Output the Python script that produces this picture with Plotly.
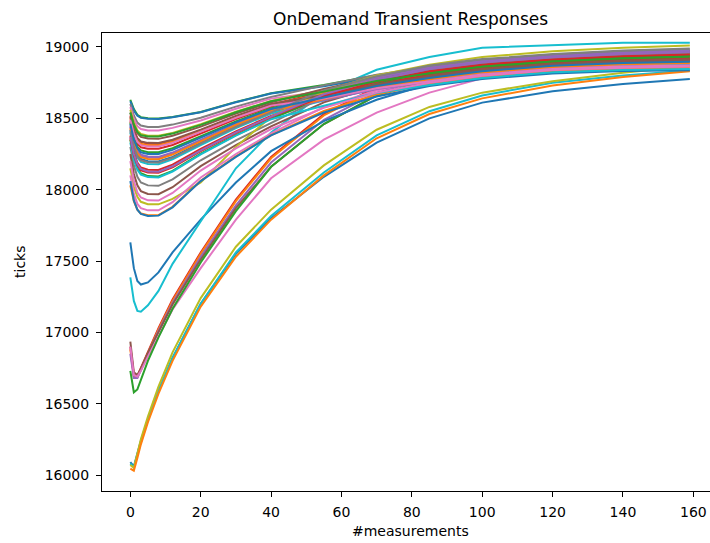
import plotly.graph_objects as go

xs = [0, 1, 2, 3, 5, 8, 12, 20, 30, 40, 55, 70, 85, 100, 120, 140, 159]

tab10 = {"blue": "#1f77b4", "orange": "#ff7f0e", "green": "#2ca02c", "red": "#d62728",
         "purple": "#9467bd", "brown": "#8c564b", "pink": "#e377c2", "gray": "#7f7f7f",
         "olive": "#bcbd22", "cyan": "#17becf"}

# group A: upper cluster
group_a_colors = ["green", "blue", "gray", "pink", "olive", "brown", "red", "orange", "red", "green",
                  "purple", "blue", "cyan", "red", "green", "gray", "brown", "olive", "pink", "orange",
                  "blue", "purple", "orange", "brown", "pink", "gray", "cyan", "red", "purple", "green",
                  "blue", "pink"]
group_a_values = [
    [18630, 18565, 18525, 18508, 18500, 18498, 18510, 18545, 18615, 18675, 18734, 18802, 18854, 18900, 18935, 18959, 18973],
    [18620, 18555, 18518, 18503, 18497, 18495, 18507, 18543, 18613, 18674, 18724, 18789, 18838, 18884, 18920, 18943, 18956],
    [18600, 18520, 18470, 18450, 18440, 18440, 18456, 18504, 18582, 18650, 18731, 18805, 18862, 18907, 18943, 18967, 18982],
    [18580, 18495, 18445, 18425, 18415, 18415, 18433, 18485, 18567, 18638, 18689, 18757, 18806, 18853, 18890, 18911, 18922],
    [18560, 18470, 18415, 18390, 18378, 18378, 18398, 18458, 18546, 18622, 18699, 18774, 18830, 18876, 18913, 18935, 18948],
    [18540, 18450, 18395, 18370, 18358, 18356, 18378, 18442, 18533, 18612, 18706, 18786, 18846, 18892, 18928, 18951, 18965],
    [18520, 18420, 18360, 18335, 18322, 18320, 18344, 18416, 18513, 18597, 18684, 18764, 18822, 18869, 18905, 18927, 18939],
    [18500, 18400, 18345, 18322, 18312, 18312, 18337, 18411, 18509, 18594, 18678, 18757, 18814, 18861, 18898, 18919, 18931],
    [18480, 18380, 18320, 18297, 18287, 18287, 18313, 18392, 18494, 18582, 18663, 18742, 18798, 18845, 18883, 18903, 18914],
    [18470, 18360, 18300, 18275, 18262, 18262, 18290, 18373, 18479, 18571, 18653, 18734, 18790, 18838, 18875, 18895, 18905],
    [18450, 18340, 18275, 18245, 18232, 18230, 18260, 18350, 18461, 18557, 18691, 18784, 18854, 18900, 18935, 18959, 18973],
    [18420, 18310, 18245, 18215, 18200, 18198, 18230, 18327, 18442, 18543, 18638, 18723, 18782, 18830, 18868, 18887, 18897],
    [18400, 18290, 18225, 18195, 18180, 18178, 18212, 18313, 18431, 18534, 18624, 18709, 18766, 18814, 18853, 18871, 18880],
    [18380, 18260, 18190, 18155, 18140, 18138, 18175, 18285, 18408, 18517, 18644, 18739, 18806, 18853, 18890, 18911, 18922],
    [18350, 18225, 18150, 18115, 18095, 18092, 18132, 18252, 18382, 18497, 18648, 18749, 18822, 18869, 18905, 18927, 18939],
    [18300, 18170, 18090, 18050, 18030, 18027, 18072, 18206, 18346, 18469, 18648, 18758, 18838, 18884, 18920, 18943, 18956],
    [18250, 18110, 18030, 17990, 17970, 17968, 18017, 18165, 18313, 18444, 18612, 18722, 18798, 18845, 18883, 18903, 18914],
    [18150, 18020, 17950, 17915, 17898, 17897, 17935, 18050, 18300, 18510, 18690, 18800, 18875, 18930, 18970, 18995, 19010],
    [18100, 17970, 17900, 17870, 17855, 17855, 17912, 18085, 18250, 18395, 18579, 18695, 18774, 18822, 18860, 18879, 18888],
    [18030, 17920, 17860, 17833, 17820, 17822, 17880, 18063, 18233, 18382, 18552, 18667, 18742, 18791, 18830, 18847, 18854],
    [18060, 17925, 17860, 17830, 17815, 17818, 17876, 18060, 18230, 18380, 18541, 18653, 18726, 18776, 18815, 18831, 18837],
    [18440, 18330, 18265, 18238, 18225, 18223, 18254, 18346, 18457, 18554, 18626, 18705, 18758, 18807, 18845, 18863, 18871],
    [18430, 18320, 18255, 18228, 18215, 18214, 18246, 18340, 18453, 18551, 18635, 18718, 18774, 18822, 18860, 18879, 18888],
    [18510, 18415, 18360, 18337, 18328, 18327, 18350, 18421, 18517, 18600, 18664, 18738, 18790, 18838, 18875, 18895, 18905],
    [18490, 18390, 18335, 18312, 18302, 18302, 18328, 18404, 18503, 18589, 18639, 18710, 18758, 18807, 18845, 18863, 18871],
    [18410, 18300, 18235, 18205, 18192, 18190, 18223, 18323, 18439, 18540, 18696, 18795, 18870, 18915, 18950, 18975, 18990],
    [18330, 18210, 18140, 18105, 18088, 18086, 18127, 18248, 18379, 18494, 18588, 18677, 18734, 18783, 18823, 18839, 18846],
    [18360, 18240, 18170, 18135, 18120, 18118, 18156, 18270, 18397, 18508, 18657, 18757, 18830, 18876, 18913, 18935, 18948],
    [18370, 18250, 18180, 18145, 18128, 18126, 18164, 18276, 18402, 18512, 18669, 18771, 18846, 18892, 18928, 18951, 18965],
    [18540, 18455, 18405, 18382, 18372, 18372, 18393, 18454, 18543, 18620, 18687, 18761, 18814, 18861, 18898, 18919, 18931],
    [18460, 18350, 18290, 18262, 18250, 18250, 18279, 18365, 18472, 18565, 18646, 18727, 18782, 18830, 18868, 18887, 18897],
    [18200, 18060, 17980, 17945, 17925, 17924, 17977, 18134, 18289, 18425, 18573, 18680, 18750, 18799, 18838, 18855, 18863],
]

# group B: two lines starting near 17600 / 17400
group_b_colors = ["blue", "cyan"]
group_b_values = [
    [17630, 17450, 17360, 17335, 17350, 17420, 17560, 17790, 18050, 18270, 18480, 18630, 18740, 18810, 18870, 18900, 18920],
    [17385, 17220, 17150, 17145, 17190, 17290, 17480, 17780, 18150, 18400, 18680, 18840, 18930, 18995, 19015, 19030, 19030],
]

# group C: lines starting near 16700-16930
group_c_colors = ["red", "orange", "purple", "brown", "pink", "green"]
group_c_values = [
    [16900, 16700, 16695, 16750, 16870, 17030, 17230, 17560, 17930, 18230, 18530, 18720, 18810, 18870, 18920, 18950, 18970],
    [16880, 16690, 16685, 16740, 16860, 17020, 17220, 17550, 17920, 18220, 18520, 18710, 18800, 18860, 18910, 18940, 18960],
    [16850, 16680, 16680, 16735, 16850, 17010, 17205, 17530, 17890, 18190, 18490, 18680, 18780, 18845, 18900, 18935, 18955],
    [16935, 16720, 16700, 16745, 16855, 17005, 17195, 17510, 17870, 18160, 18460, 18660, 18770, 18840, 18895, 18930, 18950],
    [16900, 16700, 16690, 16730, 16830, 16975, 17160, 17450, 17790, 18080, 18350, 18540, 18680, 18780, 18855, 18895, 18915],
    [16730, 16580, 16600, 16670, 16800, 16965, 17165, 17490, 17850, 18160, 18460, 18660, 18770, 18840, 18895, 18930, 18945],
]

# group D: lines starting near 16050
group_d_colors = ["blue", "cyan", "olive", "orange"]
group_d_values = [
    [16090, 16060, 16150, 16240, 16390, 16590, 16820, 17200, 17550, 17800, 18090, 18330, 18500, 18610, 18690, 18740, 18775],
    [16080, 16055, 16140, 16230, 16385, 16590, 16820, 17200, 17560, 17815, 18120, 18380, 18550, 18660, 18750, 18800, 18835],
    [16070, 16050, 16150, 16250, 16410, 16620, 16860, 17240, 17600, 17860, 18170, 18420, 18580, 18680, 18760, 18820, 18865],
    [16045, 16030, 16120, 16215, 16370, 16570, 16800, 17180, 17530, 17790, 18100, 18360, 18530, 18640, 18730, 18790, 18830],
]

x_ticks = [0, 20, 40, 60, 80, 100, 120, 140, 160]
y_ticks = [16000, 16500, 17000, 17500, 18000, 18500, 19000]

fig = go.Figure()
for colors, values in [(group_d_colors, group_d_values), (group_c_colors, group_c_values),
                       (group_b_colors, group_b_values), (group_a_colors, group_a_values)]:
    for c, v in zip(colors, values):
        fig.add_trace(go.Scatter(x=xs, y=v, mode="lines", line=dict(color=tab10[c], width=2),
                                 showlegend=False, hoverinfo="skip"))

font = "DejaVu Sans"
fig.update_layout(
    width=710, height=543,
    margin=dict(l=102, r=0, t=33, b=52),
    plot_bgcolor="white", paper_bgcolor="white",
    font=dict(family=font, size=14, color="black"),
    showlegend=False,
    xaxis=dict(range=[-8.05, 164.73], tickvals=x_ticks, ticktext=[str(t) for t in x_ticks],
               showgrid=False, zeroline=False, showline=True, linecolor="black", linewidth=1,
               mirror=True, ticks="outside", ticklen=5, tickcolor="black", tickwidth=1,
               ticklabelstandoff=3, tickfont=dict(size=14)),
    yaxis=dict(range=[15888, 19098], tickvals=y_ticks, ticktext=[str(t) for t in y_ticks],
               showgrid=False, zeroline=False, showline=True, linecolor="black", linewidth=1,
               ticks="outside", ticklen=5, tickcolor="black", tickwidth=1,
               ticklabelstandoff=4, tickfont=dict(size=14)),
    annotations=[
        dict(text="OnDemand Transient Responses", xref="paper", yref="paper",
             x=(410 - 102) / 608, y=1 + (33 - 19) / 458, xanchor="center", yanchor="middle",
             showarrow=False, font=dict(size=17, family=font)),
        dict(text="#measurements", xref="paper", yref="paper",
             x=(410 - 102) / 608, y=-(531 - 491) / 458, xanchor="center", yanchor="middle",
             showarrow=False, font=dict(size=14, family=font)),
        dict(text="ticks", xref="paper", yref="paper", textangle=-90,
             x=-(102 - 20) / 608, y=(491 - 262) / 458, xanchor="center", yanchor="middle",
             showarrow=False, font=dict(size=14, family=font)),
    ],
)

fig.write_html("out.html")
